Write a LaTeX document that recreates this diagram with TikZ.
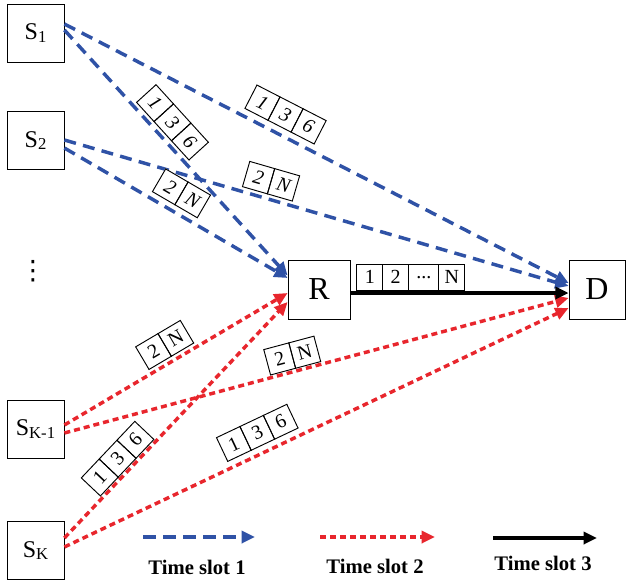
\documentclass[tikz,border=0pt]{standalone}
\usepackage{fontspec}
\setmainfont{Liberation Serif}
\newfontfamily\dejavu{DejaVu Sans}
\usetikzlibrary{arrows.meta,calc}
\definecolor{tsblue}{HTML}{2F52A6}
\definecolor{tsred}{HTML}{E8262D}
\setlength\fboxsep{0pt}
\setlength\fboxrule{0.7pt}
\newcommand\pcell[2][18.75pt]{\fbox{\parbox[c][19pt][c]{#1}{\centering #2}}}
\newcommand\cgap{\hspace{-0.7pt}}
\newcommand\sname[1]{S\raisebox{-2pt}{\fontsize{12.5}{12.5}\selectfont #1}}
\begin{document}
\begin{tikzpicture}[x=0.75pt,y=-0.75pt,
  box/.style={draw,line width=0.6pt,inner sep=0pt,minimum width=42.75pt,minimum height=43.5pt,font=\fontsize{18}{18}\selectfont},
  bigbox/.style={draw,line width=0.6pt,inner sep=0pt,minimum height=44.25pt,font=\fontsize{24}{24}\selectfont},
  tsone/.style={draw=tsblue,line width=2.6pt,dash pattern=on 9pt off 5.5pt,-{Triangle[length=10pt,width=9pt]}},
  tstwo/.style={draw=tsred,line width=2.6pt,dash pattern=on 4.5pt off 3pt,-{Triangle[length=10pt,width=9pt]}},
  tsthree/.style={draw=black,line width=2.6pt,-{Triangle[length=10pt,width=9pt]}},
  lab/.style={fill=white,inner sep=0pt,sloped,font=\fontsize{15}{15}\selectfont},
  blab/.style={lab,font=\fontsize{15}{15}\selectfont\itshape},
  legend/.style={font=\fontsize{15.5}{16}\selectfont\bfseries,inner sep=0pt}
]
\useasboundingbox (0,0) rectangle (626,582);
% nodes
\node[box] (S1) at (35.5,33) {\sname{1}};
\node[box] (S2) at (35.5,140.5) {\sname{2}};
\node[inner sep=0pt,font=\dejavu\fontsize{20}{20}\selectfont] (dots) at (33,271) {⋮};
\node[box] (SK1) at (35.5,429) {\sname{K-1}};
\node[box] (SK) at (35.5,550.5) {\sname{K}};
\node[bigbox,minimum width=46.5pt] (R) at (319,289.5) {R};
\node[bigbox,minimum width=42pt] (D) at (597,289.5) {D};
% connectors
\draw[tsone] ($(S1.east)+(0,-9)$) coordinate (a1) -- ($(D.west)+(0,-6.5)$) coordinate (b1);
\draw[tsone] ($(S1.east)+(0,-3)$) coordinate (a2) -- ($(R.west)+(0,-14)$) coordinate (b2);
\draw[tsone] ($(S2.east)+(0,-0.5)$) coordinate (a3) -- ($(D.west)+(0,-3.5)$) coordinate (b3);
\draw[tsone] ($(S2.east)+(0,7.5)$) coordinate (a4) -- ($(R.west)+(0,-11.5)$) coordinate (b4);
\draw[tstwo] ($(SK1.east)+(0,-4)$) coordinate (a5) -- ($(R.west)+(0,3.5)$) coordinate (b5);
\draw[tstwo] ($(SK1.east)+(0,4)$) coordinate (a6) -- ($(D.west)+(0,8.5)$) coordinate (b6);
\draw[tstwo] ($(SK.east)+(0,-12.5)$) coordinate (a7) -- ($(R.west)+(0,12.5)$) coordinate (b7);
\draw[tstwo] ($(SK.east)+(0,-3.5)$) coordinate (a8) -- ($(D.west)+(0,18.5)$) coordinate (b8);
\draw[tsthree] ($(R.east)+(0,3.5)$) coordinate (a9) -- ($(D.west)+(0,3.5)$) coordinate (b9);
% packet labels
\path (a1) -- (b1) node[blab,pos=0.42,above=5pt] (p1) {\pcell{1}\cgap\pcell{3}\cgap\pcell{6}};
\path (a2) -- (b2) node[blab,pos=0.425,above=3pt] (p2) {\pcell{1}\cgap\pcell{3}\cgap\pcell{6}};
\path (a3) -- (b3) node[blab,pos=0.40,above=3pt] (p3) {\pcell{2}\cgap\pcell{N}};
\path (a4) -- (b4) node[blab,pos=0.48,above=4.4pt] (p4) {\pcell{2}\cgap\pcell{N}};
\path (a5) -- (b5) node[lab,pos=0.49,above=3pt] (p5) {\pcell{2}\cgap\pcell{N}};
\path (a6) -- (b6) node[lab,pos=0.46,above=1.5pt] (p6) {\pcell{2}\cgap\pcell{N}};
\path (a7) -- (b7) node[lab,pos=0.29,above=1.5pt] (p7) {\pcell{1}\cgap\pcell{3}\cgap\pcell{6}};
\path (a8) -- (b8) node[lab,pos=0.40,above=5pt] (p8) {\pcell{1}\cgap\pcell{3}\cgap\pcell{6}};
\path (a9) -- (b9) node[lab,pos=0.277,above=1.5pt] (p9) {\pcell{1}\cgap\pcell{2}\cgap\pcell[22pt]{...}\cgap\pcell{N}};
% legend
\coordinate (l1a) at (143,537); \coordinate (l1b) at (255,537);
\coordinate (l2a) at (320,537); \coordinate (l2b) at (435,537);
\coordinate (l3a) at (493,538); \coordinate (l3b) at (597,538);
\draw[tsone,dash pattern=on 10pt off 5pt] (l1a) -- (l1b);
\draw[tstwo] (l2a) -- (l2b);
\draw[tsthree] (l3a) -- (l3b);
\node[legend] (t1) at (197,567) {Time slot 1};
\node[legend] (t2) at (375,566) {Time slot 2};
\node[legend] (t3) at (543,563) {Time slot 3};
\end{tikzpicture}
\end{document}
